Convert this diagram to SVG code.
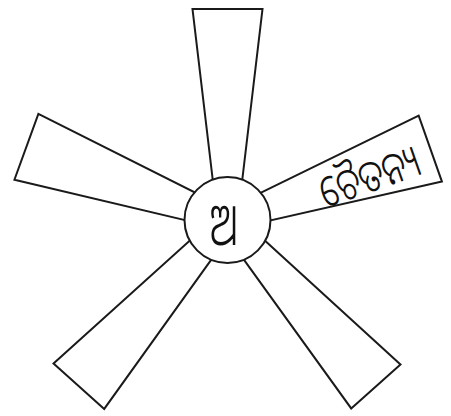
<svg xmlns="http://www.w3.org/2000/svg" width="451" height="416" viewBox="0 0 451 416">
<style>
.blade{fill:#fff;stroke:#1a1a1a;stroke-width:2;stroke-linejoin:miter}
.hub{fill:#fff;stroke:#1a1a1a;stroke-width:2}
.lbl{font-family:"Noto Sans Oriya","Noto Sans","DejaVu Sans",sans-serif;font-weight:300;fill:#111;text-anchor:middle;dominant-baseline:central}
</style>
<rect width="451" height="416" fill="#fff"/>
<g id="connectors">
<g id="blade-top" transform="translate(227.5,220) rotate(-90)"><polygon class="blade" points="0,-10 211,-35 211,35 0,10"/></g>
<g id="blade-right" transform="translate(227.5,220) rotate(-19.4)"><polygon class="blade" points="0,-10 215,-35 215,35 0,10"/></g>
<g id="blade-lowerright" transform="translate(227.5,220) rotate(48.3)"><polygon class="blade" points="0,-10 223,-33 223,33 0,10"/></g>
<g id="blade-lowerleft" transform="translate(227.5,220) rotate(131.8)"><polygon class="blade" points="0,-10 223,-34 223,34 0,10"/></g>
<g id="blade-left" transform="translate(227.5,220) rotate(200)"><polygon class="blade" points="0,-10 214,-35 214,35 0,10"/></g>
</g>
<g id="hub">
<circle class="hub" cx="227.5" cy="220" r="43"/>
<text class="lbl" x="0" y="0" font-size="44" transform="translate(224,222) scale(0.95,1.35)">ଅ</text>
</g>
<g id="label-right">
<text class="lbl" x="0" y="0" font-size="34" transform="translate(369,175) rotate(-19.4) scale(1,1.3)">ଚୈତନ୍ୟ</text>
</g>
</svg>
